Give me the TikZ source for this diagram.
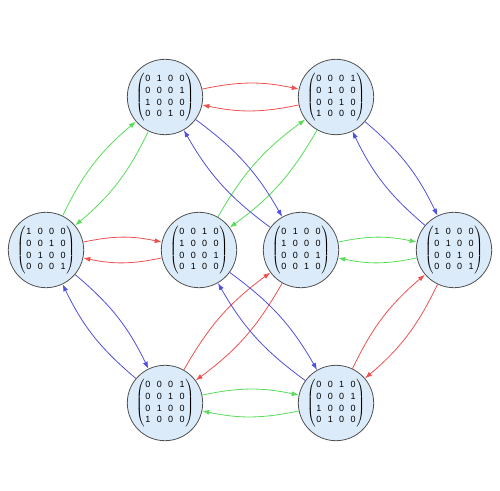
\documentclass[tikz,border=0pt]{standalone}
\usepackage{fontspec}
\setmainfont{Liberation Sans}
\usetikzlibrary{arrows.meta}
\definecolor{nodefill}{RGB}{220,235,250}
\definecolor{nodeline}{RGB}{80,80,80}
\definecolor{ered}{RGB}{238,80,80}
\definecolor{egreen}{RGB}{90,220,90}
\definecolor{eblue}{RGB}{80,80,218}
\newcommand{\mtx}[1]{$\left(\kern0.8pt\vcenter{\hbox{\fontsize{9}{11.7}\selectfont\setlength{\tabcolsep}{3.2pt}\begin{tabular}{@{}cccc@{}}#1\end{tabular}}}\kern0.8pt\right)$}
\tikzset{
  state/.style={circle, draw=nodeline, fill=nodefill, line width=0.8pt, minimum size=72pt, inner sep=0pt},
  edge/.style={line width=0.8pt, -{Latex[length=7pt,width=5pt]}, bend left=12},
}
\begin{document}
\begin{tikzpicture}[x=1pt,y=1pt]
\useasboundingbox (0,0) rectangle (500,490);
\node[state] (TL) at (165,393) {\mtx{0&1&0&0\\0&0&0&1\\1&0&0&0\\0&0&1&0}};
\node[state] (TR) at (336,393) {\mtx{0&0&0&1\\0&1&0&0\\0&0&1&0\\1&0&0&0}};
\node[state] (L)  at (46,240)  {\mtx{1&0&0&0\\0&0&1&0\\0&1&0&0\\0&0&0&1}};
\node[state] (CL) at (199,240) {\mtx{0&0&1&0\\1&0&0&0\\0&0&0&1\\0&1&0&0}};
\node[state] (CR) at (301,240) {\mtx{0&1&0&0\\1&0&0&0\\0&0&0&1\\0&0&1&0}};
\node[state] (R)  at (454,240) {\mtx{1&0&0&0\\0&1&0&0\\0&0&1&0\\0&0&0&1}};
\node[state] (BL) at (165,87)  {\mtx{0&0&0&1\\0&0&1&0\\0&1&0&0\\1&0&0&0}};
\node[state] (BR) at (336,87)  {\mtx{0&0&1&0\\0&0&0&1\\1&0&0&0\\0&1&0&0}};
% red
\draw[edge,ered] (TL) to (TR); \draw[edge,ered] (TR) to (TL);
\draw[edge,ered] (L) to (CL);  \draw[edge,ered] (CL) to (L);
\draw[edge,ered] (CR) to (BL); \draw[edge,ered] (BL) to (CR);
\draw[edge,ered] (BR) to (R);  \draw[edge,ered] (R) to (BR);
% green
\draw[edge,egreen] (TL) to (L);  \draw[edge,egreen] (L) to (TL);
\draw[edge,egreen] (TR) to (CL); \draw[edge,egreen] (CL) to (TR);
\draw[edge,egreen] (CR) to (R);  \draw[edge,egreen] (R) to (CR);
\draw[edge,egreen] (BL) to (BR); \draw[edge,egreen] (BR) to (BL);
% blue
\draw[edge,eblue] (TL) to (CR); \draw[edge,eblue] (CR) to (TL);
\draw[edge,eblue] (TR) to (R);  \draw[edge,eblue] (R) to (TR);
\draw[edge,eblue] (L) to (BL);  \draw[edge,eblue] (BL) to (L);
\draw[edge,eblue] (CL) to (BR); \draw[edge,eblue] (BR) to (CL);
\end{tikzpicture}
\end{document}
